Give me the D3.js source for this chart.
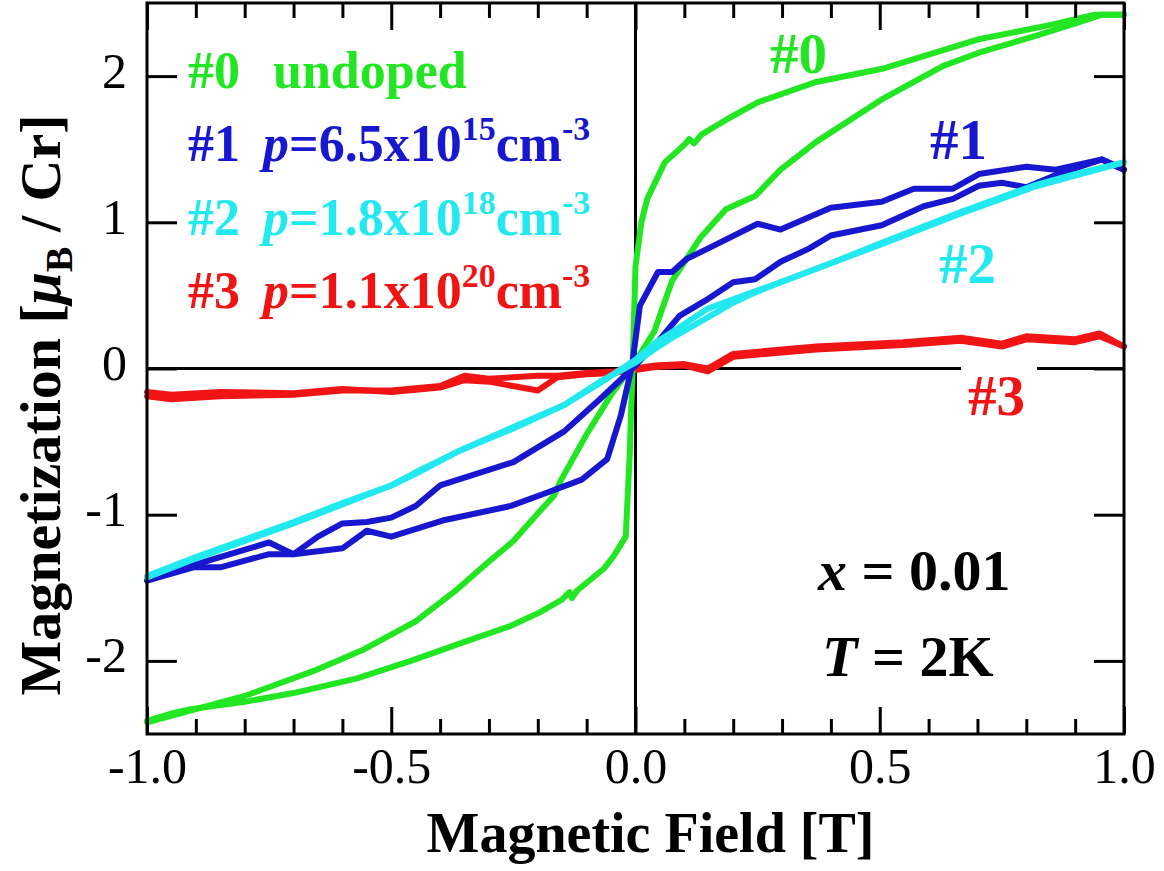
<!DOCTYPE html>
<html>
<head>
<meta charset="utf-8">
<script src="https://cdn.jsdelivr.net/npm/d3@7"></script>
<style>
  body { margin: 0; background: #fff; }
  .tick text { font-family: "Liberation Serif", "Times New Roman", serif; }
</style>
</head>
<body>
<div id="chart"></div>
<script>
// magnetization curves, [field T, M muB/Cr]
var green_steep = [[-1.0,-2.41],[-0.95,-2.36],[-0.91,-2.33],[-0.80,-2.28],[-0.70,-2.22],[-0.57,-2.12],[-0.46,-2.00],[-0.35,-1.87],[-0.255,-1.76],[-0.197,-1.67],[-0.15,-1.58],[-0.135,-1.53],[-0.13,-1.57],[-0.12,-1.52],[-0.065,-1.37],[-0.044,-1.28],[-0.02,-1.15],[-0.012,-0.6],[-0.006,0.0],[0.0,0.7],[0.012,1.0],[0.024,1.16],[0.06,1.41],[0.10,1.53],[0.11,1.57],[0.12,1.54],[0.135,1.60],[0.19,1.71],[0.25,1.82],[0.37,1.96],[0.505,2.05],[0.70,2.25],[0.85,2.35],[0.94,2.42],[1.0,2.42]];
var green_slow = [[-1.0,-2.42],[-0.9,-2.33],[-0.80,-2.24],[-0.66,-2.07],[-0.555,-1.92],[-0.45,-1.73],[-0.365,-1.51],[-0.30,-1.32],[-0.25,-1.18],[-0.197,-0.98],[-0.167,-0.87],[-0.152,-0.76],[-0.10,-0.45],[-0.05,-0.18],[0.0,0.05],[0.038,0.25],[0.075,0.60],[0.134,0.90],[0.185,1.09],[0.245,1.18],[0.297,1.36],[0.37,1.55],[0.504,1.84],[0.63,2.07],[0.703,2.16],[0.814,2.27],[0.91,2.37],[0.955,2.42],[1.0,2.42]];
var blue_steep = [[-1.0,-1.45],[-0.905,-1.36],[-0.85,-1.36],[-0.75,-1.27],[-0.70,-1.27],[-0.60,-1.23],[-0.55,-1.11],[-0.50,-1.15],[-0.395,-1.04],[-0.255,-0.94],[-0.19,-0.86],[-0.11,-0.76],[-0.058,-0.62],[-0.03,-0.32],[-0.007,0.02],[0.009,0.43],[0.046,0.66],[0.075,0.66],[0.105,0.75],[0.148,0.82],[0.25,0.99],[0.297,0.95],[0.40,1.10],[0.504,1.14],[0.57,1.23],[0.65,1.23],[0.703,1.33],[0.80,1.38],[0.86,1.36],[0.955,1.43],[1.0,1.36]];
var blue_slow = [[-1.0,-1.45],[-0.90,-1.34],[-0.75,-1.19],[-0.70,-1.27],[-0.65,-1.15],[-0.60,-1.06],[-0.55,-1.05],[-0.50,-1.02],[-0.45,-0.94],[-0.40,-0.80],[-0.25,-0.64],[-0.146,-0.43],[-0.073,-0.21],[0.0,0.02],[0.05,0.2],[0.09,0.36],[0.148,0.475],[0.20,0.59],[0.245,0.61],[0.297,0.73],[0.355,0.82],[0.40,0.91],[0.504,0.98],[0.59,1.11],[0.65,1.16],[0.703,1.25],[0.75,1.27],[0.80,1.24],[0.873,1.34],[0.955,1.43],[1.0,1.36]];
var cyan_a = [[-1.0,-1.43],[-0.90,-1.30],[-0.80,-1.18],[-0.70,-1.06],[-0.60,-0.93],[-0.50,-0.80],[-0.45,-0.72],[-0.365,-0.57],[-0.25,-0.41],[-0.146,-0.25],[-0.073,-0.10],[0.0,0.06],[0.038,0.17],[0.08,0.26],[0.148,0.41],[0.238,0.52],[0.297,0.59],[0.40,0.72],[0.504,0.86],[0.666,1.07],[0.814,1.25],[0.90,1.33],[1.0,1.41]];
var cyan_b = [[-1.0,-1.42],[-0.90,-1.29],[-0.80,-1.17],[-0.70,-1.05],[-0.60,-0.92],[-0.50,-0.80],[-0.45,-0.71],[-0.365,-0.57],[-0.25,-0.40],[-0.146,-0.25],[-0.073,-0.09],[0.0,0.04],[0.038,0.13],[0.08,0.22],[0.148,0.35],[0.20,0.45],[0.238,0.51],[0.297,0.59],[0.40,0.72],[0.504,0.85],[0.666,1.06],[0.814,1.24],[0.90,1.32],[1.0,1.41]];
var red_a = [[-1.0,-0.19],[-0.95,-0.21],[-0.85,-0.19],[-0.70,-0.18],[-0.60,-0.15],[-0.50,-0.15],[-0.40,-0.12],[-0.35,-0.05],[-0.30,-0.07],[-0.20,-0.05],[-0.16,-0.05],[-0.10,-0.03],[-0.044,-0.02],[0.0,0.0],[0.04,0.02],[0.10,0.03],[0.148,0.0],[0.20,0.10],[0.37,0.15],[0.548,0.18],[0.666,0.21],[0.75,0.17],[0.80,0.22],[0.90,0.20],[0.95,0.24],[1.0,0.15]];
var red_b = [[-1.0,-0.16],[-0.95,-0.18],[-0.85,-0.16],[-0.70,-0.17],[-0.60,-0.14],[-0.50,-0.16],[-0.40,-0.13],[-0.35,-0.08],[-0.30,-0.09],[-0.20,-0.15],[-0.16,-0.06],[-0.10,-0.04],[-0.044,-0.03],[0.0,-0.01],[0.04,0.01],[0.10,0.02],[0.148,-0.02],[0.20,0.08],[0.37,0.13],[0.548,0.16],[0.666,0.19],[0.75,0.15],[0.80,0.20],[0.90,0.18],[0.95,0.22],[1.0,0.15]];

var xMajor = [-1.0, -0.5, 0.0, 0.5, 1.0];
var xMinor = [-0.9,-0.8,-0.7,-0.6,-0.4,-0.3,-0.2,-0.1,0.1,0.2,0.3,0.4,0.6,0.7,0.8,0.9];
var yMajor = [-2, -1, 0, 1, 2];

var samples = ["#0", "#1", "#2", "#3"];
var legendText = ["undoped", "6.5x10", "1.8x10", "1.1x10"];
var legendExp = ["", "15", "18", "20"];
var colors = ["#22e622", "#1717cf", "#22e8f0", "#f01414"];

var W = 1164, H = 871;
var margin = {top: 3, right: 40, bottom: 137, left: 147},
    width = 1124 - margin.left,
    height = 734 - margin.top;

var xScale = d3.scaleLinear().domain([-1, 1]).range([0, width]);
var yScale = d3.scaleLinear().domain([-2.5, 2.5]).range([height, 0]);

var svg = d3.select("#chart").append("svg")
    .attr("width", W)
    .attr("height", H)
    .append("g")
    .attr("transform", "translate(" + margin.left + "," + margin.top + ")");

var serif = "'Liberation Serif', 'Times New Roman', serif";
// plain hyphen for negatives, like the original
function fmt(f) { return function(d) { return f(d).replace("\u2212", "-"); }; }

// zero lines
svg.append("line")
    .attr("x1", xScale(0)).attr("x2", xScale(0))
    .attr("y1", 0).attr("y2", height)
    .attr("stroke", "black").attr("stroke-width", 3);
svg.append("line")
    .attr("x1", 0).attr("x2", width)
    .attr("y1", yScale(0)).attr("y2", yScale(0))
    .attr("stroke", "black").attr("stroke-width", 3);

var line = d3.line()
    .x(function(d) { return xScale(d[0]); })
    .y(function(d) { return yScale(d[1]); })
    .curve(d3.curveLinear);

var curves = [
  [red_a, colors[3]], [red_b, colors[3]],
  [green_steep, colors[0]], [green_slow, colors[0]],
  [blue_steep, colors[1]], [blue_slow, colors[1]],
  [cyan_a, colors[2]], [cyan_b, colors[2]]
];
curves.forEach(function(c) {
  svg.append("path")
    .datum(c[0])
    .attr("d", line)
    .attr("fill", "none")
    .attr("stroke", c[1])
    .attr("stroke-width", 6)
    .attr("stroke-linejoin", "round")
    .attr("stroke-linecap", "round");
});

// axes, ticks inward
function styleAxis(g) {
  g.select(".domain").remove();
  g.selectAll(".tick line").attr("stroke", "black").attr("stroke-width", 3);
}
svg.append("g")
    .attr("transform", "translate(0," + height + ")")
    .call(d3.axisBottom(xScale).tickValues(xMinor).tickSize(-15).tickFormat(""))
    .call(styleAxis);
var xb = svg.append("g")
    .attr("transform", "translate(0," + height + ")")
    .call(d3.axisBottom(xScale).tickValues(xMajor).tickSize(-27).tickFormat(fmt(d3.format(".1f"))))
    .call(styleAxis);
xb.selectAll(".tick text")
    .attr("y", 49).attr("dy", 0)
    .attr("font-size", 50).attr("font-family", serif).attr("fill", "black");

svg.append("g")
    .call(d3.axisTop(xScale).tickValues(xMinor).tickSize(-15).tickFormat(""))
    .call(styleAxis);
svg.append("g")
    .call(d3.axisTop(xScale).tickValues(xMajor).tickSize(-27).tickFormat(""))
    .call(styleAxis);

var yl = svg.append("g")
    .call(d3.axisLeft(yScale).tickValues(yMajor).tickSize(-30).tickFormat(fmt(d3.format("d"))))
    .call(styleAxis);
yl.selectAll(".tick text")
    .attr("x", -20).attr("dy", 11)
    .attr("font-size", 50).attr("font-family", serif).attr("fill", "black");
svg.append("g")
    .attr("transform", "translate(" + width + ",0)")
    .call(d3.axisRight(yScale).tickValues(yMajor).tickSize(-30).tickFormat(""))
    .call(styleAxis);

// frame
svg.append("rect")
    .attr("width", width).attr("height", height)
    .attr("fill", "none").attr("stroke", "black").attr("stroke-width", 3);

// legend
var legY = [88, 161, 235, 308];
samples.forEach(function(s, i) {
  var t = svg.append("text")
    .attr("x", 188 - margin.left)
    .attr("y", legY[i] - margin.top)
    .attr("font-family", serif).attr("font-weight", "bold")
    .attr("font-size", 52).attr("fill", colors[i]);
  t.append("tspan").text(s);
  if (i === 0) {
    t.append("tspan").attr("x", 273 - margin.left).text(legendText[i]);
  } else {
    t.append("tspan").attr("x", 263 - margin.left).attr("font-style", "italic").text("p");
    t.append("tspan").text("=" + legendText[i]);
    t.append("tspan").attr("dy", -21).attr("font-size", 34).text(legendExp[i]);
    t.append("tspan").attr("dy", 21).text("cm");
    t.append("tspan").attr("dy", -21).attr("font-size", 34).text("-3");
  }
});

// curve labels
var tagX = [770, 930, 939, 968];
var tagY = [73, 159, 283, 415];
svg.append("rect")
    .attr("x", 961 - margin.left).attr("y", yScale(0) - 8)
    .attr("width", 76).attr("height", 16)
    .attr("fill", "white");
samples.forEach(function(s, i) {
  svg.append("text")
    .attr("x", tagX[i] - margin.left).attr("y", tagY[i] - margin.top)
    .attr("font-family", serif).attr("font-weight", "bold")
    .attr("font-size", 57).attr("fill", colors[i])
    .text(s);
});

// conditions
var c1 = svg.append("text")
    .attr("x", 818 - margin.left).attr("y", 590 - margin.top)
    .attr("font-family", serif).attr("font-weight", "bold")
    .attr("font-size", 58).attr("fill", "black");
c1.append("tspan").attr("font-style", "italic").text("x");
c1.append("tspan").text(" = 0.01");
var c2 = svg.append("text")
    .attr("x", 822 - margin.left).attr("y", 676 - margin.top)
    .attr("font-family", serif).attr("font-weight", "bold")
    .attr("font-size", 58).attr("fill", "black");
c2.append("tspan").attr("font-style", "italic").text("T");
c2.append("tspan").text(" = 2K");

// axis titles
svg.append("text")
    .attr("x", width / 2 + 15)
    .attr("y", 852 - margin.top)
    .attr("text-anchor", "middle")
    .attr("font-family", serif).attr("font-weight", "bold")
    .attr("font-size", 56)
    .text("Magnetic Field [T]");

var yt = svg.append("text")
    .attr("transform", "translate(" + (60 - margin.left) + "," + (405 - margin.top) + ") rotate(-90)")
    .attr("text-anchor", "middle")
    .attr("font-family", serif).attr("font-weight", "bold")
    .attr("font-size", 58);
yt.append("tspan").text("Magnetization [");
yt.append("tspan").attr("font-style", "italic").text("\u03bc");
yt.append("tspan").attr("dy", 12).attr("font-size", 38).text("B");
yt.append("tspan").attr("dy", -12).text(" / Cr]");
</script>
</body>
</html>
